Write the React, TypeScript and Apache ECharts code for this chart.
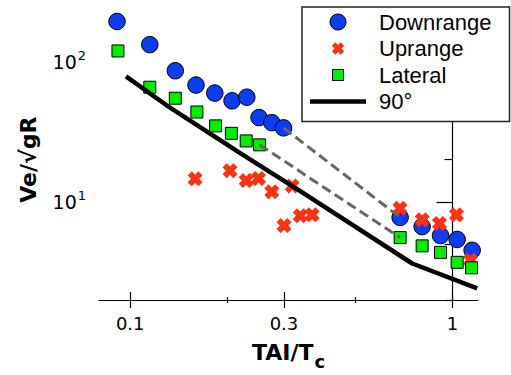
import React, { useEffect, useRef } from "react";
import * as echarts from "echarts";

// ---- data (raw values on log-log axes) ----
const downrangeX = [0.091, 0.115, 0.138, 0.16, 0.183, 0.207, 0.23, 0.251, 0.275, 0.299, 0.688, 0.805, 0.918, 1.034, 1.151];
const downrangeY = [193, 132, 86, 68, 59.6, 52.5, 55.7, 39.9, 36.7, 33.7, 7.75, 6.67, 5.76, 5.4, 4.52];

const uprangeX = [0.159, 0.204, 0.229, 0.25, 0.275, 0.3, 0.318, 0.337, 0.367, 0.687, 0.805, 0.911, 1.029, 1.138];
const uprangeY = [14.6, 16.7, 14.2, 14.7, 11.8, 6.78, 13.0, 7.96, 8.09, 9.02, 7.47, 7.03, 8.09, 3.84];

const lateralX = [0.0916, 0.115, 0.138, 0.161, 0.184, 0.206, 0.229, 0.252, 0.688, 0.805, 0.918, 1.034, 1.146];
const lateralY = [119, 65.6, 54.8, 43.7, 34.8, 30.8, 27.2, 25.5, 5.57, 4.86, 4.37, 3.71, 3.39];

const ninetyX = [0.097, 0.13, 0.22, 0.337, 0.75, 1.193];
const ninetyY = [78.3, 48.6, 22.2, 11.95, 3.64, 2.42];

// dashed connectors: [from index, to index]
const downrangeLink = [9, 10];
const lateralLink = [7, 8];

const xRange = [0.08, 1.2];
const yRange = [2, 200];
const xMajorTicks = [0.1, 0.3, 1];
const xMinorTicks = [0.2, 0.5];
const yMajorTicks = [10, 100];
const yMinorTicks = [2, 5, 20, 50, 200];

const legendNames = ["Downrange", "Uprange", "Lateral", "90°"];

const lg = (v: number) => Math.log10(v);
const pts = (xs: number[], ys: number[]) => xs.map((x, i) => [lg(x), lg(ys[i])]);

const X_PATH = "M0 2.8L2.8 0L5 2.2L7.2 0L10 2.8L7.8 5L10 7.2L7.2 10L5 7.8L2.8 10L0 7.2L2.2 5Z";

export default function App() {
  const ref = useRef<HTMLDivElement>(null);
  useEffect(() => {
    if (!ref.current) return;
    const chart = echarts.init(ref.current, undefined, { renderer: "svg" });
    const axisColor = "#000";
    const font = "DejaVu Sans";
    const baseX = {
      type: "value" as const,
      min: lg(xRange[0]),
      max: lg(xRange[1]),
      position: "bottom" as const,
      splitLine: { show: false },
    };
    const baseY = {
      type: "value" as const,
      min: lg(yRange[0]),
      max: lg(yRange[1]),
      position: "left" as const,
      splitLine: { show: false },
    };
    const tickStyle = { color: axisColor, width: 1.2 };
    const down = pts(downrangeX, downrangeY);
    const lat = pts(lateralX, lateralY);
    chart.setOption({
      animation: false,
      backgroundColor: "#fff",
      grid: { left: 99, right: 33, top: 19.3, bottom: 71.7 },
      xAxis: [
        {
          ...baseX,
          axisLine: { show: true, lineStyle: tickStyle },
          axisTick: { show: false },
          axisLabel: {
            customValues: xMajorTicks.map(lg),
            formatter: (v: number) => String(Number(Math.pow(10, v).toPrecision(2))),
            fontFamily: font,
            fontSize: 18,
            color: "#000",
            margin: 14,
          },
          name: "{m|TAI/T}{s|c}",
          nameLocation: "middle",
          nameGap: 34,
          nameTextStyle: {
            rich: {
              m: { fontFamily: font, fontSize: 22, fontWeight: "bold", color: "#000" },
              s: { fontFamily: font, fontSize: 18, fontWeight: "bold", color: "#000", padding: [18, 0, 0, 1] },
            },
          },
        },
        {
          ...baseX,
          offset: -8,
          axisLine: { show: false },
          axisTick: { show: true, customValues: xMajorTicks.map(lg), length: 16, lineStyle: tickStyle },
          axisLabel: { show: false },
        },
        {
          ...baseX,
          offset: -3,
          axisLine: { show: false },
          axisTick: { show: true, customValues: xMinorTicks.map(lg), length: 6, lineStyle: tickStyle },
          axisLabel: { show: false },
        },
      ],
      yAxis: [
        {
          ...baseY,
          axisLine: { show: true, lineStyle: tickStyle },
          axisTick: { show: false },
          axisLabel: {
            customValues: yMajorTicks.map(lg),
            formatter: (v: number) => `{a|10}{b|${Math.round(v)}}`,
            margin: 13,
            rich: {
              a: { fontFamily: font, fontSize: 19, color: "#000" },
              b: { fontFamily: font, fontSize: 13, color: "#000", padding: [0, 0, 12, 1] },
            },
          },
          name: "Ve/√gR",
          nameLocation: "middle",
          nameGap: 60,
          nameTextStyle: { fontFamily: font, fontSize: 22, fontWeight: "bold", color: "#000" },
        },
        {
          ...baseY,
          offset: -8,
          axisLine: { show: false },
          axisTick: { show: true, customValues: yMajorTicks.map(lg), length: 16, lineStyle: tickStyle },
          axisLabel: { show: false },
        },
        {
          ...baseY,
          offset: -4,
          axisLine: { show: false },
          axisTick: { show: true, customValues: yMinorTicks.map(lg), length: 8, lineStyle: tickStyle },
          axisLabel: { show: false },
        },
      ],
      legend: {
        orient: "vertical",
        left: 302,
        top: 7,
        padding: [3, 18, 8, 0],
        itemWidth: 72,
        itemHeight: 16,
        itemGap: 2.5,
        backgroundColor: "#fff",
        borderColor: "#222",
        borderWidth: 1.5,
        itemStyle: { borderWidth: 1 },
        textStyle: { fontFamily: "Liberation Sans", fontSize: 22, color: "#000", lineHeight: 24 },
        data: [
          { name: legendNames[0], icon: "circle" },
          { name: legendNames[1], icon: "path://M-1.5 -1.5M11.5 11.5M" + X_PATH.slice(1), itemStyle: { borderWidth: 0 } },
          { name: legendNames[2], icon: "path://M0 0M16 16M2.5 2.5L13.5 2.5L13.5 13.5L2.5 13.5Z" },
          { name: legendNames[3], icon: "path://M0 0M72 16M8 5.8L64 5.8L64 10.2L8 10.2Z", itemStyle: { color: "#000", borderWidth: 0 } },
        ],
      },
      series: [
        {
          name: legendNames[0],
          type: "scatter",
          data: down,
          symbol: "circle",
          symbolSize: 16.5,
          itemStyle: { color: "#0d3cf2", borderColor: "#000", borderWidth: 1, opacity: 1 },
        },
        {
          name: legendNames[1],
          type: "scatter",
          data: pts(uprangeX, uprangeY),
          symbol: "path://" + X_PATH,
          symbolSize: 15,
          itemStyle: { color: "#ff3311", borderWidth: 0, opacity: 1 },
        },
        {
          name: legendNames[2],
          type: "scatter",
          data: lat,
          symbol: "rect",
          symbolSize: 12,
          itemStyle: { color: "#00ee00", borderColor: "#000", borderWidth: 1, opacity: 1 },
        },
        {
          name: legendNames[3],
          type: "line",
          data: pts(ninetyX, ninetyY),
          showSymbol: false,
          lineStyle: { color: "#000", width: 4.5 },
          itemStyle: { color: "#000" },
        },
        {
          name: "downrange-gap",
          type: "line",
          data: [down[downrangeLink[0]], down[downrangeLink[1]]],
          showSymbol: false,
          lineStyle: { color: "#666", width: 3, type: [10, 5] },
        },
        {
          name: "lateral-gap",
          type: "line",
          data: [lat[lateralLink[0]], lat[lateralLink[1]]],
          showSymbol: false,
          lineStyle: { color: "#666", width: 3, type: [10, 5] },
        },
      ],
    });
    return () => chart.dispose();
  }, []);
  return <div ref={ref} style={{ position: "fixed", left: 0, top: 0, width: 511, height: 375 }} />;
}
